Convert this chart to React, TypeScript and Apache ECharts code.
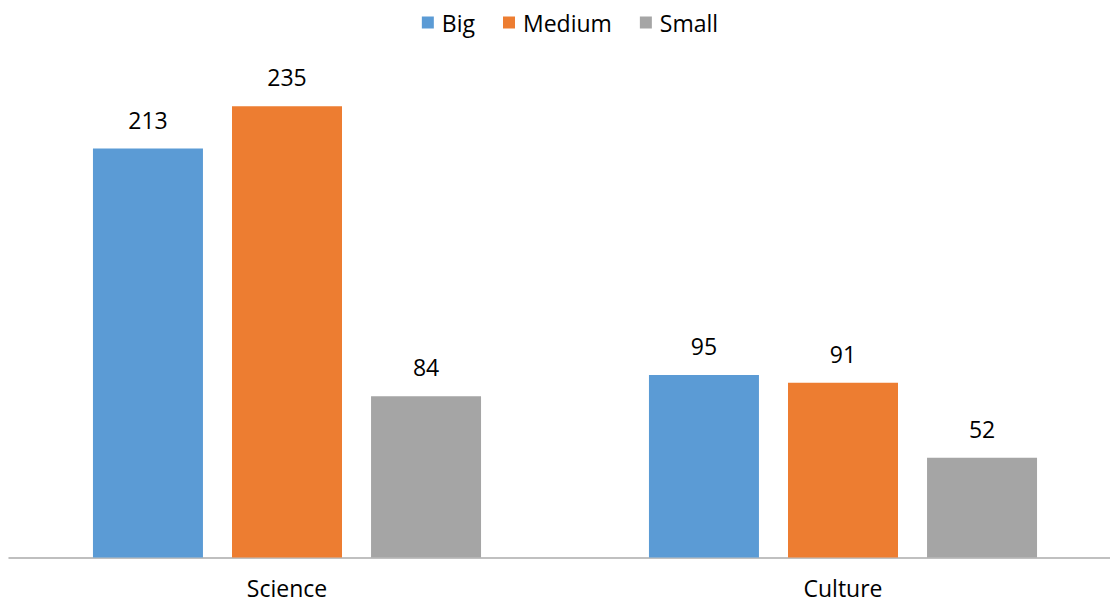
import React, { useEffect, useRef } from "react";
import * as echarts from "echarts";

const categories = ["Science", "Culture"];
const seriesNames = ["Big", "Medium", "Small"];
const bigValues = [213, 95];
const mediumValues = [235, 91];
const smallValues = [84, 52];
const colors = ["#5b9bd5", "#ed7d31", "#a5a5a5"];

const FONT = "'Open Sans', 'Noto Sans', sans-serif";

export default function App() {
  const ref = useRef<HTMLDivElement>(null);

  useEffect(() => {
    if (!ref.current) return;
    const chart = echarts.init(ref.current, null, { renderer: "svg" });
    const values = [bigValues, mediumValues, smallValues];
    chart.setOption({
      animation: false,
      backgroundColor: "#ffffff",
      color: colors,
      legend: {
        top: 6,
        left: "center",
        itemWidth: 12,
        itemHeight: 12,
        itemGap: 28,
        icon: "rect",
        textStyle: { fontFamily: FONT, fontSize: 23, color: "#000000", padding: [0, 0, 0, 3] },
        data: seriesNames,
      },
      grid: { left: 9, top: 77.5, width: 1112, height: 480, containLabel: false },
      xAxis: {
        type: "category",
        data: categories,
        axisLine: { show: true, lineStyle: { color: "#ababab", width: 1.5 } },
        axisTick: { show: false },
        axisLabel: {
          fontFamily: FONT,
          fontSize: 23,
          lineHeight: 22,
          color: "#000000",
          margin: 19,
        },
      },
      yAxis: {
        type: "value",
        min: 0,
        max: 250,
        show: false,
        splitLine: { show: false },
      },
      series: seriesNames.map((name, i) => ({
        name,
        type: "bar",
        data: values[i],
        barWidth: 110,
        barGap: "26.4%",
        itemStyle: { color: colors[i] },
        label: {
          show: true,
          position: "top",
          distance: 16,
          fontFamily: FONT,
          fontSize: 23,
          lineHeight: 26,
          color: "#000000",
        },
      })),
    });
    return () => chart.dispose();
  }, []);

  return (
    <div
      style={{
        position: "fixed",
        left: 0,
        top: 0,
        width: 1110,
        height: 605,
        overflow: "hidden",
        background: "#fff",
      }}
    >
      <div ref={ref} style={{ width: 1140, height: 605 }} />
    </div>
  );
}
